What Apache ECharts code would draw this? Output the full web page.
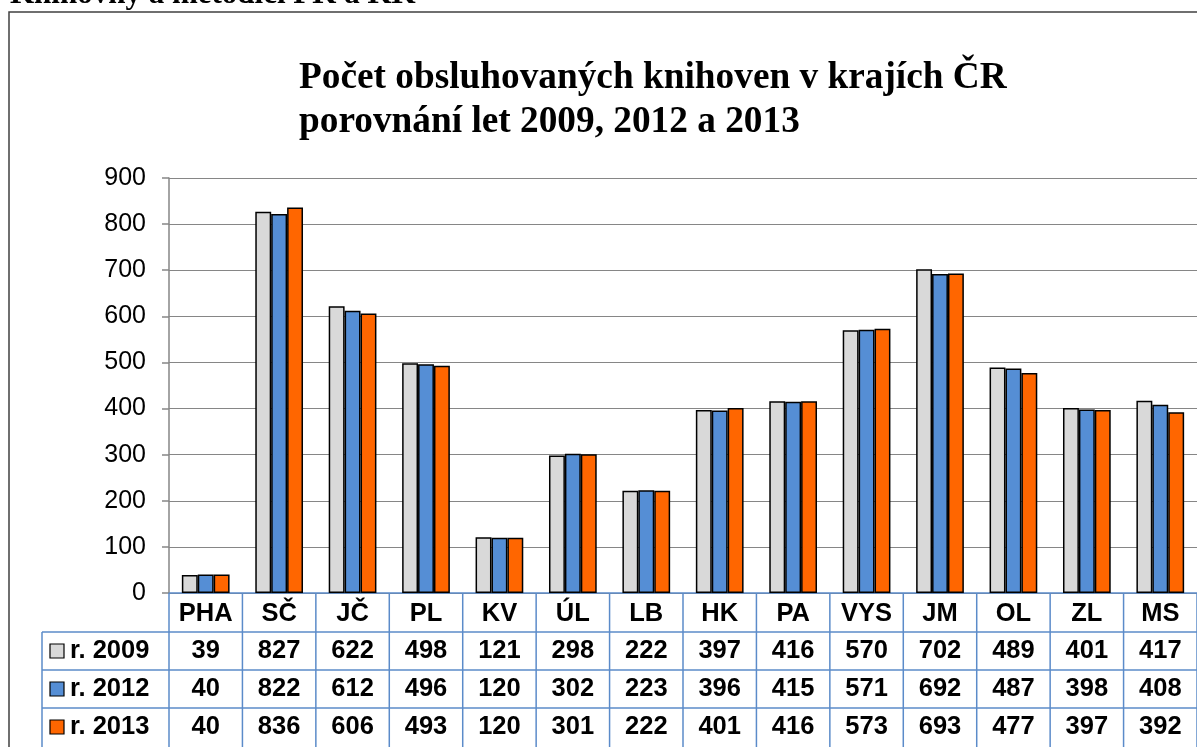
<!DOCTYPE html>
<html>
<head>
<meta charset="utf-8">
<script src="https://cdn.jsdelivr.net/npm/echarts@6/dist/echarts.min.js"></script>
<style>html,body{margin:0;padding:0;background:#fff;}#c{width:1197px;height:747px;}</style>
</head>
<body>
<div id="c"></div>
<script>
const categories = ['PHA','SČ','JČ','PL','KV','ÚL','LB','HK','PA','VYS','JM','OL','ZL','MS'];
const seriesNames = ['r. 2009','r. 2012','r. 2013'];
const v2009 = [39,827,622,498,121,298,222,397,416,570,702,489,401,417];
const v2012 = [40,822,612,496,120,302,223,396,415,571,692,487,398,408];
const v2013 = [40,836,606,493,120,301,222,401,416,573,693,477,397,392];
const yTicks = [0,100,200,300,400,500,600,700,800,900];
const colors = ['#d9d9d9','#558ed5','#ff6600'];
const pageHeading = 'Knihovny a metodici PK a KK';
const titleLines = ['Počet obsluhovaných knihoven v krajích ČR','porovnání let 2009, 2012 a 2013'];

const chart = echarts.init(document.getElementById('c'), null, {renderer:'canvas'});
const allValues = [v2009, v2012, v2013];
const tableFont = 'bold 25.5px "Liberation Sans", Arial, sans-serif';

const option = {
  animation: false,
  backgroundColor: '#fff',
  grid: {left: 169, top: 178, bottom: 154, right: -11, containLabel: false},
  xAxis: {
    type: 'category',
    data: categories,
    axisLine: {show: true, lineStyle: {color: '#5b8bc9', width: 1.5}},
    axisTick: {show: false},
    axisLabel: {margin: 8, fontFamily: 'Liberation Sans, Arial', fontWeight: 'bold', fontSize: 25.5, color: '#000', interval: 0}
  },
  yAxis: {
    type: 'value',
    min: yTicks[0], max: yTicks[yTicks.length-1], interval: 100,
    axisLine: {show: true, lineStyle: {color: '#868686', width: 1.5}},
    axisTick: {show: true, length: 7, lineStyle: {color: '#868686', width: 1.5}},
    axisLabel: {margin: 23, fontFamily: 'Liberation Sans, Arial', fontSize: 25, color: '#000'},
    splitLine: {show: true, lineStyle: {color: '#868686', width: 1.2}}
  },
  series: seriesNames.map((n, i) => ({
    name: n, type: 'bar', data: allValues[i],
    barGap: '0%', barCategoryGap: '35%',
    itemStyle: {color: colors[i], borderColor: '#000', borderWidth: 1.5}
  }))
};
chart.setOption(option);

// Build data table below the axis using the library's category scale
const axisY = chart.convertToPixel({yAxisIndex: 0}, 0);
const c0 = chart.convertToPixel({xAxisIndex: 0}, 0);
const c1 = chart.convertToPixel({xAxisIndex: 0}, 1);
const band = c1 - c0;
const rowH = 38;
const headerBottom = axisY + 39;
const legendLeft = 42;
const tableBottom = 760;
const lineColor = '#5b8bc9';
const g = [];

// outer frame
g.push({type: 'rect', shape: {x: 9, y: 12, width: 1300, height: 800}, style: {fill: 'none', stroke: '#404040', lineWidth: 1.5}, z: 1});
// page heading (cut off at top)
g.push({type: 'text', x: 10, y: -5, style: {text: pageHeading, font: 'bold 31px "Liberation Serif", "Times New Roman", serif', fill: '#000', textVerticalAlign: 'middle'}, z: 10});
// chart title
titleLines.forEach((t, i) => {
  g.push({type: 'text', x: 299, y: 78 + i * 44, style: {text: t, font: 'bold 37.3px "Liberation Serif", "Times New Roman", serif', fill: '#000', textVerticalAlign: 'middle'}, z: 10});
});
// vertical lines (category boundaries)
for (let k = 0; k <= categories.length; k++) {
  const x = c0 - band / 2 + k * band;
  g.push({type: 'line', shape: {x1: x, y1: axisY, x2: x, y2: tableBottom}, style: {stroke: lineColor, lineWidth: 1.5}, z: 5});
}
// legend column left border
g.push({type: 'line', shape: {x1: legendLeft, y1: headerBottom, x2: legendLeft, y2: tableBottom}, style: {stroke: lineColor, lineWidth: 1.5}, z: 5});
// horizontal lines
for (let r = 0; r < 3; r++) {
  const y = headerBottom + r * rowH;
  g.push({type: 'line', shape: {x1: legendLeft, y1: y, x2: 1300, y2: y}, style: {stroke: lineColor, lineWidth: 1.5}, z: 5});
}
// rows
seriesNames.forEach((n, r) => {
  const yc = headerBottom + r * rowH + rowH / 2;
  g.push({type: 'rect', shape: {x: 50, y: yc - 7, width: 14, height: 14}, style: {fill: colors[r], stroke: '#000', lineWidth: 1.2}, z: 6});
  g.push({type: 'text', x: 70, y: yc, style: {text: n, font: tableFont, fill: '#000', textVerticalAlign: 'middle'}, z: 6});
  allValues[r].forEach((v, i) => {
    const xc = chart.convertToPixel({xAxisIndex: 0}, i);
    g.push({type: 'text', x: xc, y: yc, style: {text: String(v), font: tableFont, fill: '#000', textAlign: 'center', textVerticalAlign: 'middle'}, z: 6});
  });
});
chart.setOption({graphic: g});
</script>
</body>
</html>
